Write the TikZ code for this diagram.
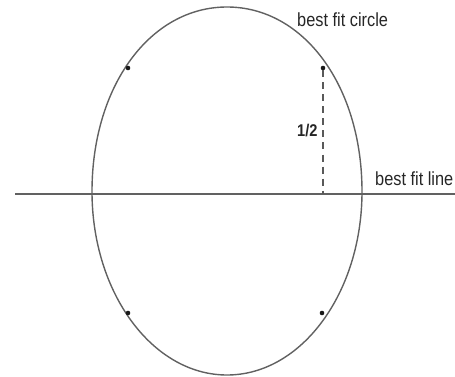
\documentclass[tikz,border=0pt]{standalone}
\usepackage{fontspec}
\setmainfont{Liberation Sans}[FakeStretch=0.86]
\begin{document}
\begin{tikzpicture}[x=1pt,y=-1pt,
  curve/.style={draw=black!62, line width=1.4pt},
  dotnode/.style={circle, fill=black!90, inner sep=0pt, minimum size=4.6pt},
  lbl/.style={inner sep=0pt, anchor=base west, text=black!85, font=\fontsize{19}{22}\selectfont},
  half/.style={draw=black!65, line width=1.4pt, dash pattern=on 7pt off 5pt}]
\useasboundingbox (0,0) rectangle (455,377);
% best fit circle
\coordinate (cE) at (362,191.5);
\coordinate (cN) at (227,7);
\coordinate (cW) at (92,191.5);
\coordinate (cS) at (227,375);
\draw[curve] (cE) .. controls (362,86.3) and (304,7) .. (cN)
  .. controls (150,7) and (92,86.3) .. (cW)
  .. controls (92,292.8) and (152.5,375) .. (cS)
  .. controls (301.5,375) and (362,292.8) .. (cE) -- cycle;
\coordinate (L) at (15,194);
\coordinate (R) at (455,194);
\draw[curve] (L) -- (R);
\node[dotnode] (d1) at (128,68) {};
\node[dotnode] (d2) at (323,68) {};
\node[dotnode] (d3) at (128,313) {};
\node[dotnode] (d4) at (322,313) {};
\coordinate (foot) at (323,194);
\draw[half] (d2) -- (foot);
\node[lbl] (tc) at (297,27) {best fit circle};
\node[lbl] (tl) at (375,185) {best fit line};
\node[lbl, font=\bfseries\fontsize{17}{20}\selectfont] (th) at (297,137) {1/2};
\end{tikzpicture}
\end{document}
